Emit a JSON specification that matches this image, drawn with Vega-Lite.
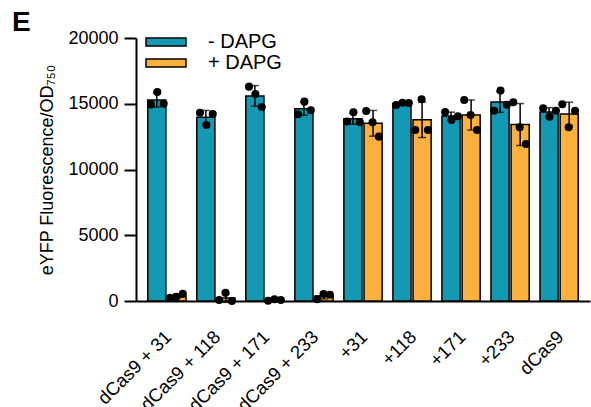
{
  "$schema": "https://vega.github.io/schema/vega-lite/v6.json",
  "width": 454,
  "height": 263,
  "autosize": {"type": "none"},
  "padding": {"left": 136, "top": 38, "right": 1, "bottom": 106},
  "background": "white",
  "title": {"text": "E", "anchor": "start", "frame": "group", "dx": -124, "dy": 12, "fontSize": 28, "font": "Liberation Sans", "fontWeight": "bold", "color": "black"},
  "config": {
    "view": {"stroke": null},
    "font": "Liberation Sans",
    "axis": {"labelFont": "Liberation Sans", "labelFontSize": 18, "labelColor": "black", "domainColor": "black", "domainWidth": 2, "tickColor": "black", "tickWidth": 2, "grid": false, "titleFont": "Liberation Sans", "titleFontSize": 18, "titleFontWeight": "normal", "titleColor": "black"},
    "legend": {"orient": "none", "legendX": 19, "legendY": -7, "title": null, "labelFont": "Liberation Sans", "labelFontSize": 20, "labelColor": "black", "symbolType": "M-2,-0.4L2,-0.4L2,0.4L-2,0.4Z", "symbolSize": 400, "symbolStrokeColor": "black", "symbolStrokeWidth": 1.5, "symbolOpacity": 1, "labelOffset": 31, "rowPadding": 0}
  },
  "data": {"values": [
    {"strain": "dCas9 + 31", "cond": "- DAPG", "rep": 1, "value": 14950},
    {"strain": "dCas9 + 31", "cond": "- DAPG", "rep": 2, "value": 15900},
    {"strain": "dCas9 + 31", "cond": "- DAPG", "rep": 3, "value": 15000},
    {"strain": "dCas9 + 31", "cond": "+ DAPG", "rep": 1, "value": 250},
    {"strain": "dCas9 + 31", "cond": "+ DAPG", "rep": 2, "value": 320},
    {"strain": "dCas9 + 31", "cond": "+ DAPG", "rep": 3, "value": 540},
    {"strain": "dCas9 + 118", "cond": "- DAPG", "rep": 1, "value": 14320},
    {"strain": "dCas9 + 118", "cond": "- DAPG", "rep": 2, "value": 13380},
    {"strain": "dCas9 + 118", "cond": "- DAPG", "rep": 3, "value": 14220},
    {"strain": "dCas9 + 118", "cond": "+ DAPG", "rep": 1, "value": 80},
    {"strain": "dCas9 + 118", "cond": "+ DAPG", "rep": 2, "value": 620},
    {"strain": "dCas9 + 118", "cond": "+ DAPG", "rep": 3, "value": 0},
    {"strain": "dCas9 + 171", "cond": "- DAPG", "rep": 1, "value": 16300},
    {"strain": "dCas9 + 171", "cond": "- DAPG", "rep": 2, "value": 15740},
    {"strain": "dCas9 + 171", "cond": "- DAPG", "rep": 3, "value": 14750},
    {"strain": "dCas9 + 171", "cond": "+ DAPG", "rep": 1, "value": 20},
    {"strain": "dCas9 + 171", "cond": "+ DAPG", "rep": 2, "value": 130},
    {"strain": "dCas9 + 171", "cond": "+ DAPG", "rep": 3, "value": 80},
    {"strain": "dCas9 + 233", "cond": "- DAPG", "rep": 1, "value": 14200},
    {"strain": "dCas9 + 233", "cond": "- DAPG", "rep": 2, "value": 15160},
    {"strain": "dCas9 + 233", "cond": "- DAPG", "rep": 3, "value": 14500},
    {"strain": "dCas9 + 233", "cond": "+ DAPG", "rep": 1, "value": 130},
    {"strain": "dCas9 + 233", "cond": "+ DAPG", "rep": 2, "value": 530},
    {"strain": "dCas9 + 233", "cond": "+ DAPG", "rep": 3, "value": 480},
    {"strain": "+31", "cond": "- DAPG", "rep": 1, "value": 13650},
    {"strain": "+31", "cond": "- DAPG", "rep": 2, "value": 14350},
    {"strain": "+31", "cond": "- DAPG", "rep": 3, "value": 13600},
    {"strain": "+31", "cond": "+ DAPG", "rep": 1, "value": 14450},
    {"strain": "+31", "cond": "+ DAPG", "rep": 2, "value": 13590},
    {"strain": "+31", "cond": "+ DAPG", "rep": 3, "value": 12500},
    {"strain": "+118", "cond": "- DAPG", "rep": 1, "value": 14900},
    {"strain": "+118", "cond": "- DAPG", "rep": 2, "value": 15080},
    {"strain": "+118", "cond": "- DAPG", "rep": 3, "value": 15050},
    {"strain": "+118", "cond": "+ DAPG", "rep": 1, "value": 13000},
    {"strain": "+118", "cond": "+ DAPG", "rep": 2, "value": 15340},
    {"strain": "+118", "cond": "+ DAPG", "rep": 3, "value": 13000},
    {"strain": "+171", "cond": "- DAPG", "rep": 1, "value": 14370},
    {"strain": "+171", "cond": "- DAPG", "rep": 2, "value": 13765},
    {"strain": "+171", "cond": "- DAPG", "rep": 3, "value": 14050},
    {"strain": "+171", "cond": "+ DAPG", "rep": 1, "value": 15290},
    {"strain": "+171", "cond": "+ DAPG", "rep": 2, "value": 14145},
    {"strain": "+171", "cond": "+ DAPG", "rep": 3, "value": 13000},
    {"strain": "+233", "cond": "- DAPG", "rep": 1, "value": 14470},
    {"strain": "+233", "cond": "- DAPG", "rep": 2, "value": 16000},
    {"strain": "+233", "cond": "- DAPG", "rep": 3, "value": 14930},
    {"strain": "+233", "cond": "+ DAPG", "rep": 1, "value": 15110},
    {"strain": "+233", "cond": "+ DAPG", "rep": 2, "value": 13210},
    {"strain": "+233", "cond": "+ DAPG", "rep": 3, "value": 11940},
    {"strain": "dCas9", "cond": "- DAPG", "rep": 1, "value": 14650},
    {"strain": "dCas9", "cond": "- DAPG", "rep": 2, "value": 14020},
    {"strain": "dCas9", "cond": "- DAPG", "rep": 3, "value": 14470},
    {"strain": "dCas9", "cond": "+ DAPG", "rep": 1, "value": 14960},
    {"strain": "dCas9", "cond": "+ DAPG", "rep": 2, "value": 13210},
    {"strain": "dCas9", "cond": "+ DAPG", "rep": 3, "value": 14470}
  ]},
  "encoding": {
    "x": {
      "field": "strain", "type": "nominal",
      "sort": ["dCas9 + 31", "dCas9 + 118", "dCas9 + 171", "dCas9 + 233", "+31", "+118", "+171", "+233", "dCas9"],
      "scale": {"paddingInner": 0.22, "paddingOuter": 0.24},
      "axis": {"title": null, "ticks": false, "labelAngle": -45, "labelAlign": "right", "labelBaseline": "top", "labelPadding": 26, "labelOffset": -5, "labelFontSize": 18.5}
    }
  },
  "layer": [
    {
      "layer": [
        {
          "mark": {"type": "bar", "stroke": "black", "strokeWidth": 1.5},
          "encoding": {
            "y": {
              "aggregate": "mean", "field": "value", "type": "quantitative",
              "title": "eYFP Fluorescence/OD₇₅₀",
              "scale": {"domain": [0, 20000]},
              "axis": {"title": "eYFP Fluorescence/OD₇₅₀", "values": [0, 5000, 10000, 15000, 20000], "format": "d", "tickSize": 12, "labelPadding": 6, "titlePadding": 11}
            },
            "xOffset": {"field": "cond", "type": "nominal", "scale": {"domain": ["- DAPG", "+ DAPG"], "paddingInner": 0.1}},
            "color": {"field": "cond", "type": "nominal", "scale": {"domain": ["- DAPG", "+ DAPG"], "range": ["#1399B2", "#FBB040"]}}
          }
        },
        {
          "mark": {"type": "errorbar", "extent": "stdev", "ticks": {"size": 8, "thickness": 1.5, "color": "black"}, "rule": {"strokeWidth": 1.5, "color": "black"}},
          "encoding": {
            "y": {"field": "value", "type": "quantitative", "title": "eYFP Fluorescence/OD₇₅₀"},
            "xOffset": {"field": "cond", "type": "nominal", "scale": {"domain": ["- DAPG", "+ DAPG"], "paddingInner": 0.1}}
          }
        }
      ]
    },
    {
      "transform": [{"calculate": "datum.cond + datum.rep", "as": "slot"}],
      "mark": {"type": "point", "filled": true, "color": "black", "opacity": 1, "size": 65},
      "encoding": {
        "y": {"field": "value", "type": "quantitative", "title": "eYFP Fluorescence/OD₇₅₀"},
        "xOffset": {"field": "slot", "type": "nominal", "scale": {"domain": ["- DAPG1", "- DAPG2", "- DAPG3", "+ DAPG1", "+ DAPG2", "+ DAPG3"], "paddingInner": 0}}
      }
    }
  ],
  "resolve": {"scale": {"xOffset": "independent"}}
}
